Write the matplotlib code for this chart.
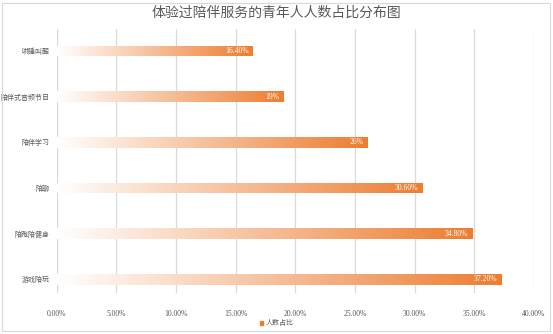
import numpy as np
import matplotlib.pyplot as plt
from matplotlib.colors import LinearSegmentedColormap
from matplotlib.patches import Patch, Rectangle
from matplotlib.ticker import FuncFormatter

categories = ['哄睡叫醒', '陪伴式音频节目', '陪伴学习', '陪聊', '陪跑陪健身', '游戏陪玩']
values = [16.4, 19, 26, 30.6, 34.8, 37.2]
value_labels = ['16.40%', '19%', '26%', '30.60%', '34.80%', '37.20%']
xticks = [0, 5, 10, 15, 20, 25, 30, 35, 40]

cjk = ['Noto Sans CJK SC', 'DejaVu Sans']
num_font = ['Liberation Serif', 'Noto Sans CJK SC']
orange = '#ED7D31'
grey_text = '#595959'

fig = plt.figure(figsize=(5.53, 3.34), dpi=100)
ax = fig.add_axes([56.5 / 553, 1 - 293 / 334, (534 - 56.5) / 553, (293 - 29) / 334])

# outer border of the chart area
fig.patches.append(Rectangle((2 / 553, 3 / 334), 548 / 553, 328 / 334,
                             transform=fig.transFigure, fill=False,
                             edgecolor='#D9D9D9', linewidth=0.8))

y = np.arange(len(categories))
h = 0.23
bars = ax.barh(y, values, height=h, color='none', linewidth=0, zorder=3)

# white -> orange gradient along each bar
cmap = LinearSegmentedColormap.from_list('grad', ['#FFFFFF', orange])
grad = np.linspace(0, 1, 256).reshape(1, -1)
for yi, v, lab, bar in zip(y, values, value_labels, bars):
    im = ax.imshow(grad, extent=[0, v, yi + h / 2, yi - h / 2], aspect='auto',
                   cmap=cmap, zorder=2, interpolation='bicubic')
    im.set_clip_path(bar)
    ax.text(v - 0.3, yi, lab, ha='right', va='center',
            color='white', fontsize=5.5, family=num_font, zorder=4)

ax.set_xlim(0, 40)
ax.set_ylim(5 + 0.30, -0.48)
ax.set_xticks(xticks)
ax.xaxis.set_major_formatter(FuncFormatter(lambda x, p: f'{x:.2f}%'))
ax.set_yticks(y)
ax.set_yticklabels(categories, family=cjk, fontsize=5, color=grey_text)
for lbl in ax.get_xticklabels():
    lbl.set_family(num_font)
    lbl.set_fontsize(5.5)
    lbl.set_color(grey_text)
ax.tick_params(length=0, pad=12, axis='x')
ax.tick_params(length=0, pad=5, axis='y')
for s in ax.spines.values():
    s.set_visible(False)
ax.grid(axis='x', color='#D9D9D9', linewidth=0.9, zorder=0)
ax.set_axisbelow(True)

fig.suptitle('体验过陪伴服务的青年人人数占比分布图', y=1 - 13 / 334, va='center',
             fontsize=10, color=grey_text, family=cjk)

fig.legend(handles=[Patch(color=orange)], labels=['人数占比'], loc='center',
           bbox_to_anchor=(0.5, 1 - 323 / 334), frameon=False,
           prop={'family': cjk, 'size': 5}, handlelength=0.5, handleheight=0.5,
           handletextpad=0.3, labelcolor=grey_text)

fig.savefig('out.png', dpi=100)
